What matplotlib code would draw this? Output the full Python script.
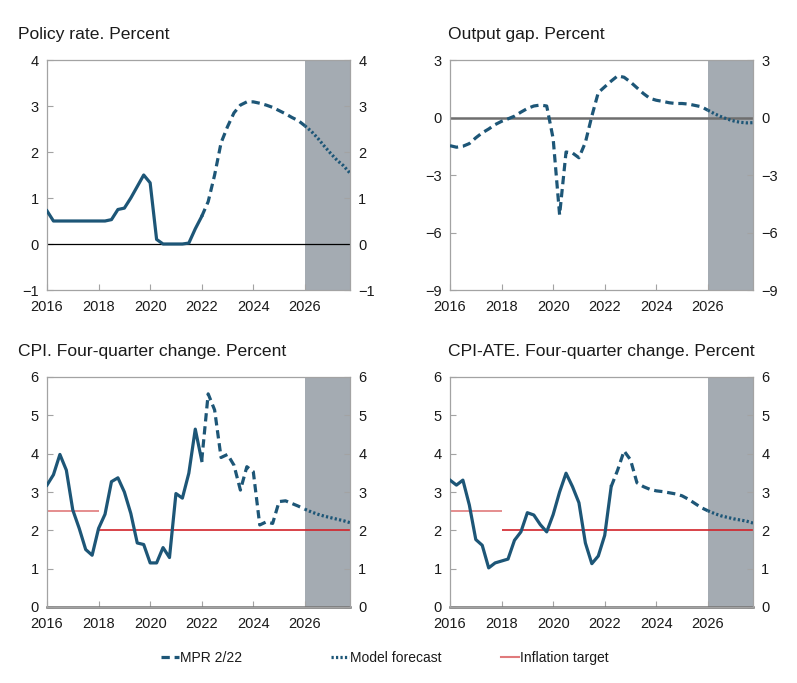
import matplotlib
matplotlib.use('Agg')

import matplotlib.pyplot as plt
import numpy as np
from matplotlib.lines import Line2D

plt.rcParams['font.family'] = ['Liberation Sans', 'DejaVu Sans']

# quarterly time axis, 2016Q1 .. 2027Q4
quarters = 2016 + 0.25 * np.arange(48)
split_year = 2026.0          # start of model forecast period (shaded)
target_change = 2018.0
target_old = 2.5
target_new = 2.0

# --- Policy rate
policy_hist = [0.72, 0.5, 0.5, 0.5, 0.5, 0.5, 0.5, 0.5, 0.5, 0.5, 0.53, 0.75,
               0.78, 1.0, 1.25, 1.5, 1.33, 0.1, 0.0, 0.0, 0.0, 0.0, 0.02, 0.33, 0.6]
policy_mpr = [0.6, 0.92, 1.5, 2.2, 2.55, 2.85, 3.02, 3.09, 3.09, 3.06, 3.02, 2.97,
              2.9, 2.83, 2.75, 2.68, 2.57]
policy_model = [2.57, 2.45, 2.3, 2.13, 1.97, 1.82, 1.7, 1.54]

# --- Output gap
gap_hist = []
gap_mpr = [-1.47, -1.55, -1.5, -1.36, -1.06, -0.8, -0.6, -0.37, -0.2, -0.07, 0.07, 0.28,
           0.47, 0.6, 0.65, 0.6, -1.1, -5.08, -1.8, -1.85, -2.1, -1.3, 0.07, 1.3,
           1.6, 1.9, 2.17, 2.1, 1.85, 1.55, 1.25, 1.0, 0.9, 0.84, 0.77, 0.73,
           0.73, 0.7, 0.63, 0.56, 0.38]
gap_model = [0.38, 0.2, 0.05, -0.08, -0.18, -0.25, -0.28, -0.27]

# --- CPI
cpi_hist = [3.18, 3.45, 3.98, 3.57, 2.53, 2.05, 1.5, 1.35, 2.05, 2.42, 3.27, 3.37,
            3.0, 2.44, 1.67, 1.63, 1.15, 1.15, 1.55, 1.29, 2.96, 2.84, 3.49, 4.64, 3.82]
cpi_mpr = [3.82, 5.56, 5.14, 3.9, 3.98, 3.7, 3.05, 3.66, 3.53, 2.14, 2.22, 2.18,
           2.75, 2.77, 2.7, 2.63, 2.55]
cpi_model = [2.55, 2.48, 2.42, 2.37, 2.33, 2.29, 2.25, 2.2]

# --- CPI-ATE
ate_hist = [3.31, 3.18, 3.31, 2.66, 1.76, 1.61, 1.02, 1.15, 1.2, 1.25, 1.74, 1.96,
            2.46, 2.4, 2.15, 1.96, 2.41, 3.0, 3.49, 3.14, 2.72, 1.67, 1.13, 1.33,
            1.87, 3.14]
ate_mpr = [3.14, 3.57, 4.07, 3.84, 3.24, 3.14, 3.07, 3.03, 3.01, 2.98, 2.95, 2.9,
           2.81, 2.7, 2.59, 2.51]
ate_model = [2.51, 2.44, 2.38, 2.34, 2.3, 2.27, 2.24, 2.19]

xticks = [2016, 2018, 2020, 2022, 2024, 2026]

BLUE = '#1d5677'
SHADE = '#a4abb2'
SPINE = '#a3a3a3'
TEXT = '#1a1a1a'
RED = '#d2232a'
RED_LIGHT = '#e07a7c'
DASH = (0, (2.6, 1.5))
DOT = (0, (0.7, 0.7))

fig = plt.figure(figsize=(7.97, 6.83), dpi=100)
W, H = 797, 683


def make_ax(left, top, width=303, height=230):
    return fig.add_axes([left / W, 1 - (top + height) / H, width / W, height / H])


def style(ax, ylim, yticks, title, title_x):
    ax.set_xlim(2016, quarters[-1])
    ax.set_ylim(*ylim)
    ax.set_yticks(yticks)
    ax.set_xticks(xticks)
    ax.axvspan(split_year, quarters[-1], color=SHADE, lw=0, zorder=0)
    for s in ax.spines.values():
        s.set_color(SPINE)
        s.set_linewidth(0.9)
    ax.tick_params(direction='in', length=4, width=0.8, color=SPINE,
                   labelsize=10.5, labelcolor=TEXT, pad=6,
                   left=True, right=True, labelleft=True, labelright=True,
                   top=False, bottom=True)
    ax.tick_params(axis='x', pad=7)
    ax.text(title_x, 1.109, title, transform=ax.transAxes, fontsize=12.6,
            color=TEXT, ha='left', va='center')


def draw_series(ax, hist, mpr, model):
    n_hist = len(hist)
    start_mpr = n_hist - 1 if n_hist else 0
    if n_hist:
        ax.plot(quarters[:n_hist], hist, color=BLUE, lw=2.3, solid_joinstyle='round', zorder=3)
    ax.plot(quarters[start_mpr:start_mpr + len(mpr)], mpr, color=BLUE, lw=2.3,
            linestyle=DASH, zorder=3)
    start_model = start_mpr + len(mpr) - 1
    ax.plot(quarters[start_model:start_model + len(model)], model, color=BLUE, lw=2.3,
            linestyle=DOT, zorder=3)


def draw_target(ax):
    ax.hlines(target_old, 2016, target_change, color=RED_LIGHT, lw=1.2, zorder=2)
    ax.hlines(target_new, target_change, quarters[-1], color=RED, lw=1.2, zorder=2)


ax1 = make_ax(47, 60)
style(ax1, (-1, 4), [-1, 0, 1, 2, 3, 4], 'Policy rate. Percent', (18 - 47) / 303)
ax1.axhline(0, color='black', lw=0.9, zorder=2)
draw_series(ax1, policy_hist, policy_mpr, policy_model)

ax2 = make_ax(450, 60)
style(ax2, (-9, 3), [-9, -6, -3, 0, 3], 'Output gap. Percent', (448 - 450) / 303)
ax2.axhline(0, color='#6e6e6e', lw=1.8, zorder=2)
draw_series(ax2, gap_hist, gap_mpr, gap_model)

ax3 = make_ax(47, 377)
style(ax3, (0, 6), [0, 1, 2, 3, 4, 5, 6], 'CPI. Four-quarter change. Percent', (18 - 47) / 303)
ax3.axhline(0, color='#6e6e6e', lw=1.8, zorder=2, clip_on=False)
draw_target(ax3)
draw_series(ax3, cpi_hist, cpi_mpr, cpi_model)

ax4 = make_ax(450, 377)
style(ax4, (0, 6), [0, 1, 2, 3, 4, 5, 6], 'CPI-ATE. Four-quarter change. Percent', (448 - 450) / 303)
ax4.axhline(0, color='#6e6e6e', lw=1.8, zorder=2, clip_on=False)
draw_target(ax4)
draw_series(ax4, ate_hist, ate_mpr, ate_model)

# legend: three separate entries spread across the bottom
entries = [
    (Line2D([], [], color=BLUE, lw=2.3, linestyle=DASH), 'MPR 2/22', 161),
    (Line2D([], [], color=BLUE, lw=2.3, linestyle=DOT), 'Model forecast', 331),
    (Line2D([], [], color=RED_LIGHT, lw=1.5), 'Inflation target', 501),
]
for handle, label, xpix in entries:
    leg = fig.legend([handle], [label], loc='center left',
                     bbox_to_anchor=(xpix / W, 1 - 658 / H), frameon=False,
                     fontsize=10, handlelength=1.3, handletextpad=0.1,
                     borderaxespad=0, borderpad=0)
    for t in leg.get_texts():
        t.set_color(TEXT)

fig.savefig('out.png', dpi=100, facecolor='white')
